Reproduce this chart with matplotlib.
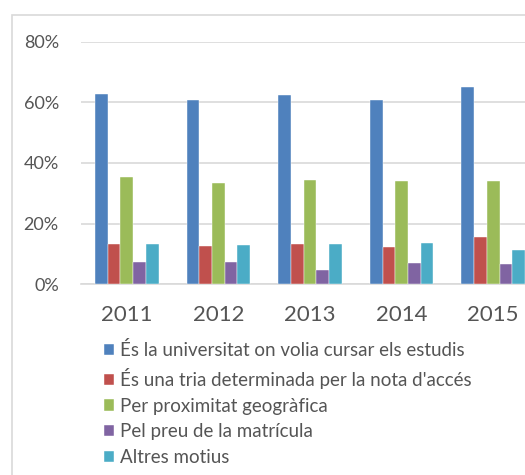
import matplotlib
matplotlib.use("Agg")
import matplotlib.pyplot as plt
import numpy as np
from matplotlib.patches import Rectangle

years = ["2011", "2012", "2013", "2014", "2015"]
series_names = [
    "És la universitat on volia cursar els estudis",
    "És una tria determinada per la nota d'accés",
    "Per proximitat geogràfica",
    "Pel preu de la matrícula",
    "Altres motius",
]
universitat = [62.7, 60.6, 62.4, 60.8, 65.0]
nota_acces = [13.2, 12.6, 13.2, 12.2, 15.6]
proximitat = [35.3, 33.4, 34.4, 34.0, 34.2]
preu = [7.4, 7.5, 4.8, 7.0, 6.6]
altres = [13.3, 13.0, 13.3, 13.6, 11.2]
colors = ["#4F81BD", "#C0504D", "#9BBB59", "#8064A2", "#4BACC6"]
yticks = [0, 20, 40, 60, 80]

plt.rcParams['font.family'] = ['Lato', 'DejaVu Sans']
text_color = "#555555"

W, H = 525, 475
fig = plt.figure(figsize=(W / 100, H / 100), dpi=100)

# outer chart border (cropped on right/bottom)
fig.patches.append(Rectangle((12 / W, -0.05), 1.2, (H - 15) / H + 0.05,
                             transform=fig.transFigure, fill=False,
                             edgecolor="#D9D9D9", linewidth=1.2))

ax = fig.add_axes([81 / W, 190.7 / H, (539 - 81) / W, (433.5 - 190.7) / H])
data = [universitat, nota_acces, proximitat, preu, altres]
x = np.arange(len(years))
bw = 0.1387
for i, (vals, c, name) in enumerate(zip(data, colors, series_names)):
    ax.bar(x + (i - 2) * bw, vals, width=bw, color=c, label=name,
           edgecolor="white", linewidth=0.3, zorder=3)

ax.set_xlim(-0.5, len(years) - 0.5)
ax.set_ylim(0, 80)
ax.set_yticks(yticks)
ax.set_yticklabels([f"{v}%" for v in yticks], fontsize=13, color=text_color)
ax.set_xticks(x)
ax.set_xticklabels(years, fontsize=16, color=text_color)
ax.tick_params(axis='both', length=0)
ax.tick_params(axis='y', pad=16)
ax.tick_params(axis='x', pad=15)
ax.grid(axis='y', color="#D9D9D9", linewidth=1.2, zorder=0)
for s in ["top", "right", "left"]:
    ax.spines[s].set_visible(False)
ax.spines["bottom"].set_color("#D9D9D9")
ax.spines["bottom"].set_linewidth(1.2)

leg = fig.legend(loc="upper left", bbox_to_anchor=(104 / W, 1 - 341 / H),
                 frameon=False, fontsize=13.5, handlelength=0.55,
                 handleheight=0.55, handletextpad=0.3, labelspacing=0.47,
                 borderpad=0, borderaxespad=0)
for t in leg.get_texts():
    t.set_color(text_color)

fig.savefig("out.png", dpi=100)
